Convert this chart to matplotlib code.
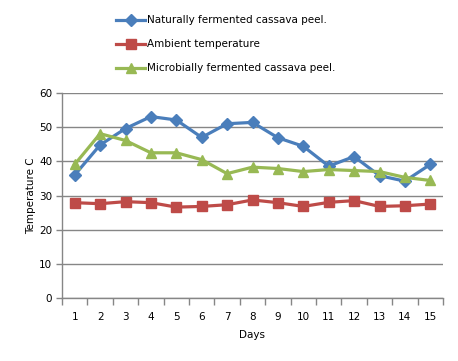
import matplotlib
matplotlib.use("Agg")
import matplotlib.pyplot as plt

days = list(range(1, 16))
natural = [36.0, 44.8, 49.6, 53.1, 52.1, 47.0, 51.0, 51.4, 46.9, 44.4, 38.6, 41.4, 35.8, 34.2, 39.1]
ambient = [27.9, 27.6, 28.2, 27.9, 26.6, 26.8, 27.3, 28.7, 27.9, 26.8, 28.0, 28.5, 26.8, 27.0, 27.5]
microbial = [39.1, 48.1, 46.1, 42.5, 42.5, 40.5, 36.4, 38.3, 37.9, 37.0, 37.6, 37.3, 37.0, 35.3, 34.4]

labels = ["Naturally fermented cassava peel.", "Ambient temperature", "Microbially fermented cassava peel."]
colors = ["#4A7EBB", "#BE4B48", "#98B954"]

plt.rcParams['font.family'] = ['DejaVu Sans']
fig = plt.figure(figsize=(4.58, 3.61), dpi=100)
ax = fig.add_axes([62/458, 1-298/361, (443-62)/458, (298-93)/361])

l1, = ax.plot(days, natural, color=colors[0], lw=2.3, marker='D', ms=6, label=labels[0])
l2, = ax.plot(days, ambient, color=colors[1], lw=2.3, marker='s', ms=7, label=labels[1])
l3, = ax.plot(days, microbial, color=colors[2], lw=2.3, marker='^', ms=7.5, label=labels[2])

ax.set_xlim(0.5, 15.5)
ax.set_ylim(0, 60)
ax.set_yticks(range(0, 61, 10))
ax.set_xticks(days)
ax.set_xticks([d + 0.5 for d in range(0, 16)], minor=True)
ax.tick_params(axis='x', which='major', length=0, pad=10, labelsize=7.5)
ax.tick_params(axis='x', which='minor', length=5, color='#868686', width=1)
ax.tick_params(axis='y', length=4, color='#868686', width=1, labelsize=7.5, pad=3)
ax.grid(axis='y', color='#868686', lw=1)
ax.set_axisbelow(True)
for s in ['top', 'right']:
    ax.spines[s].set_visible(False)
for s in ['left', 'bottom']:
    ax.spines[s].set_color('#868686')
    ax.spines[s].set_linewidth(1)
ax.set_xlabel("Days", fontsize=7.5, labelpad=6)
ax.set_ylabel("Temperature C", fontsize=7.5, labelpad=2)

fig.legend(handles=[l1, l2, l3], loc='upper left', bbox_to_anchor=(112/458, 1-11/361),
           frameon=False, fontsize=7.5, handlelength=2.8, labelspacing=1.35,
           handletextpad=0.2, borderaxespad=0)

fig.savefig("out.png", dpi=100)
